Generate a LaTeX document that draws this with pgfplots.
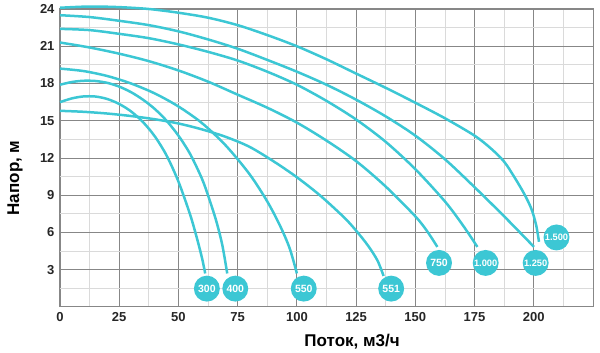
\documentclass[border=0pt]{standalone}
\usepackage{pgfplots}
\pgfplotsset{compat=1.18}
\usepackage{fontspec}
\setmainfont{Liberation Sans}
\definecolor{pump}{RGB}{60,199,212}
\definecolor{majgrid}{RGB}{135,135,135}
\definecolor{mingrid}{RGB}{218,218,218}
\begin{document}
\begin{tikzpicture}
\begin{axis}[
  name=main,
  scale only axis, width=533pt, height=298pt,
  xmin=0, xmax=225, ymin=0, ymax=24,
  xtick={0,25,...,200}, ytick={3,6,...,24},
  minor xtick={12.5,37.5,...,212.5}, minor ytick={1.5,4.5,...,22.5},
  grid=both,
  major grid style={majgrid, line width=0.9pt},
  minor grid style={mingrid, line width=0.8pt},
  axis line style={majgrid, line width=1pt},
  major tick length=0pt, minor tick length=0pt,
  tick label style={font=\bfseries\fontsize{13}{13}\selectfont, text=black!85},
  /pgf/number format/assume math mode=true,
  xticklabel style={yshift=-2pt},
  yticklabel style={xshift=-2pt},
  xlabel={Поток, м3/ч}, ylabel={Напор, м},
  label style={font=\bfseries\fontsize{17}{17}\selectfont},
  xlabel style={at={(axis description cs:0.548,-0.1164)}, anchor=center},
  ylabel style={at={(axis description cs:-0.0844,0.433)}, anchor=center},
  clip=false,
  every axis plot/.append style={pump, line width=2.5pt},
]
% 300
\addplot[smooth] coordinates {(0,16.5)(5,16.8)(10,16.96)(15,16.95)(20,16.75)(25,16.35)(30,15.75)(35,14.9)(40,13.75)(45,12.2)(50,10.1)(55,7.4)(58,5.4)(60,3.9)(61.3,2.7)};
% 400
\addplot[smooth] coordinates {(0,17.9)(5,18.12)(10,18.22)(15,18.2)(20,18.05)(25,17.75)(30,17.3)(35,16.7)(40,15.95)(45,15.0)(50,13.8)(55,12.3)(60,10.3)(63,8.7)(66,6.9)(68.5,5.0)(70.6,2.7)};
% 550
\addplot[smooth] coordinates {(0,19.2)(10,19.0)(20,18.6)(30,18.0)(40,17.2)(50,16.15)(60,14.8)(70,13.0)(80,10.7)(87.5,8.5)(93,6.5)(97,4.7)(100,2.7)};
% 551
\addplot[smooth] coordinates {(0,15.8)(10,15.72)(20,15.58)(30,15.38)(40,15.12)(50,14.78)(60,14.3)(70,13.7)(80,12.9)(90,11.75)(100,10.45)(110,8.95)(120,7.2)(125,6.15)(130,4.95)(134,3.75)(136.6,2.5)};
% 750
\addplot[smooth] coordinates {(0,21.3)(12.5,20.9)(25,20.4)(37.5,19.8)(50,19.05)(62.5,18.15)(75,17.1)(87.5,16.05)(100,14.85)(112.5,13.4)(125,11.75)(137.5,9.7)(150,7.3)(155,6.1)(159.3,4.84)};
% 1.000
\addplot[smooth] coordinates {(0,22.4)(12.5,22.3)(25,22.0)(37.5,21.65)(50,21.15)(62.5,20.55)(75,19.85)(87.5,18.95)(100,17.9)(112.5,16.6)(125,15.1)(137.5,13.3)(150,11.1)(162.5,8.5)(170,6.6)(176.2,4.84)};
% 1.250
\addplot[smooth] coordinates {(0,23.5)(12.5,23.35)(25,23.05)(37.5,22.7)(50,22.2)(62.5,21.55)(75,20.8)(87.5,19.9)(100,18.95)(112.5,17.9)(125,16.7)(137.5,15.35)(150,13.8)(162.5,11.9)(175,9.65)(187.5,7.3)(200.1,4.84)};
% 1.500
\addplot[smooth] coordinates {(0,24.1)(12.5,24.2)(25,24.15)(37.5,24.0)(50,23.7)(62.5,23.3)(75,22.7)(87.5,21.9)(100,21.0)(112.5,19.95)(125,18.8)(137.5,17.65)(150,16.45)(162.5,15.2)(175,13.8)(182,12.75)(187.5,11.7)(192,10.4)(196,9.1)(199,7.9)(201,6.6)(202.2,5.25)};
% labels
\addplot[only marks, mark=*, mark size=11.7pt, mark options={pump, draw=none, fill=pump},
  nodes near coords, point meta=explicit symbolic,
  every node near coord/.append style={anchor=center, text=white, font=\bfseries\fontsize{10.5}{10.5}\selectfont}]
  table[meta=lab] {
x y lab
62 1.48 300
74 1.48 400
102.9 1.48 550
139.8 1.48 551
160 3.55 750
};
\addplot[only marks, mark=*, mark size=11.7pt, mark options={pump, draw=none, fill=pump},
  nodes near coords, point meta=explicit symbolic,
  every node near coord/.append style={anchor=center, text=white, font=\bfseries\fontsize{9.3}{9.5}\selectfont, inner sep=0pt}]
  table[meta=lab] {
x y lab
179.7 3.55 1.000
200.8 3.55 1.250
209.6 5.6 1.500
};
\end{axis}
\path ([xshift=-60pt,yshift=-46pt]main.south west) rectangle ([xshift=7pt,yshift=9pt]main.north east);
\end{tikzpicture}
\end{document}
